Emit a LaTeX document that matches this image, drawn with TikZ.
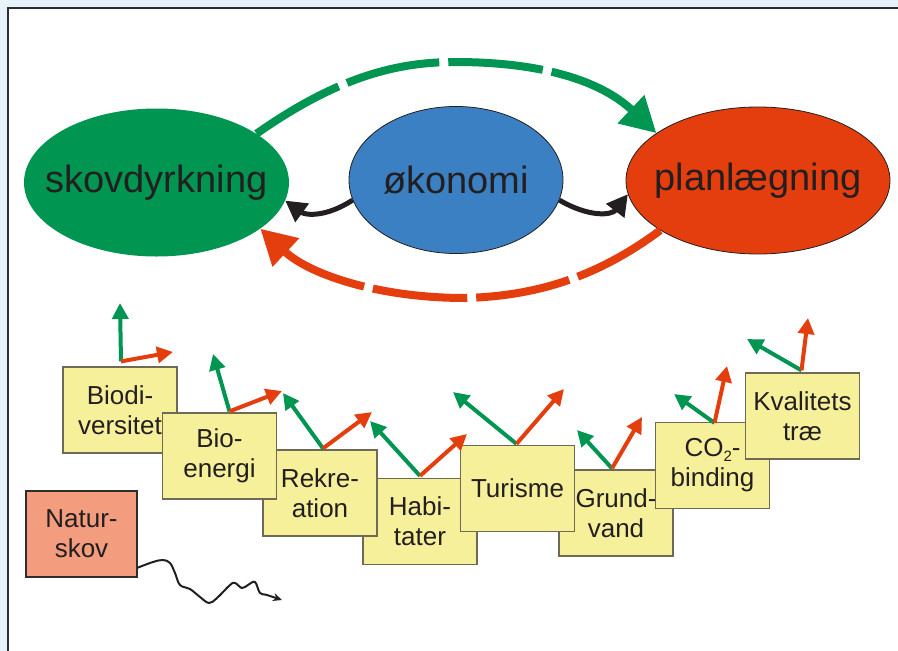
\documentclass[tikz,border=0pt]{standalone}
\usepackage{fontspec}
\setmainfont{Liberation Sans}
\usepackage{tikz}
\usetikzlibrary{calc, shapes, arrows.meta}
\usepackage{xcolor}
\definecolor{skovgreen}{RGB}{0,149,80}
\definecolor{okoblue}{RGB}{59,128,195}
\definecolor{planred}{RGB}{229,62,14}
\definecolor{boxyellow}{RGB}{247,240,155}
\definecolor{boxgray}{RGB}{110,106,85}
\definecolor{natursalmon}{RGB}{243,157,126}
\definecolor{framebg}{RGB}{232,242,251}
\definecolor{framedark}{RGB}{45,45,45}
\definecolor{textdark}{RGB}{35,31,32}

\begin{document}
\begin{tikzpicture}[x=1pt, y=-1pt,
	ovalnode/.style={ellipse, inner sep=0pt, minimum width=265pt, minimum height=148pt},
	ovaltext/.style={inner sep=0pt, text=textdark, font=\fontsize{38}{40}\selectfont},
	valuebox/.style={rectangle, draw=boxgray, line width=1.2pt, fill=boxyellow, minimum width=114pt, minimum height=86pt, inner sep=0pt, align=center, text=textdark, font=\fontsize{26}{30}\selectfont},
	greenarrow/.style={draw=skovgreen, line width=4pt, -{Triangle[length=16pt,width=16pt]}},
	redarrow/.style={draw=planred, line width=4pt, -{Triangle[length=16pt,width=16pt]}},
	bigdash/.style={line width=8pt, dash pattern=on 95pt off 9pt, -{Triangle[length=35pt,width=37pt]}},
	blackarrow/.style={draw=textdark, line width=5pt, -{Triangle[length=21pt,width=22pt]}}
	]
	\useasboundingbox (0,0) rectangle (898,651);
	%Frame of the slide
	\fill[framebg] (0,0) rectangle (898,651);
	\fill[white] (8,8) rectangle (898,651);
	\draw[framedark, line width=1.5pt] (8,651) -- (8,8) -- (898,8);
	%The three ovals
	\node[ovalnode, fill=skovgreen] (skov) at (156.5,182.5) {};
	\node[ovalnode, fill=okoblue, draw=textdark, line width=0.8pt, minimum width=214pt, minimum height=147pt] (oek) at (456,180) {};
	\node[ovalnode, fill=planred, draw=textdark, line width=0.8pt, minimum width=264pt, minimum height=147pt] (plan) at (758,180.5) {};
	\node[ovaltext] (skovtext) at (skov.center) {skovdyrkning};
	\node[ovaltext] (oektext) at (oek.center) {økonomi};
	\node[ovaltext] (plantext) at (plan.center) {planlægning};
	%Dashed loop between the outer ovals
	\draw[bigdash, draw=skovgreen] (skov.26) .. controls (340,75) and (400,62) .. (455,62) .. controls (540,62) and (600,80) .. (plan.155);
	\draw[bigdash, draw=planred] (plan.207) .. controls (600,275) and (540,296) .. (465,298) .. controls (380,298) and (310,275) .. (skov.336);
	%Small black arrows out of the middle oval
	\draw[blackarrow] (oek.191) .. controls (325,218) and (305,215) .. (skov.352);
	\draw[blackarrow] (oek.349) .. controls (590,218) and (612,215) .. (plan.186);
	%The staircase of boxes
	\node[valuebox] (habi) at (420,521.5) {Habi-\\tater};
	\node[valuebox] (rekr) at (320,493) {Rekre-\\ation};
	\node[valuebox] (bdiv) at (120,410) {Biodi-\\versitet};
	\node[valuebox] (bioe) at (219.5,456) {Bio-\\energi};
	\node[valuebox] (grun) at (616,513) {Grund-\\vand};
	\node[valuebox] (turi) at (517.5,488.5) {Turisme};
	\node[valuebox] (cobi) at (712.5,465.5) {CO{\raisebox{-5pt}{\fontsize{15}{15}\selectfont 2}}-\\binding};
	\node[valuebox] (kval) at (802.5,416) {Kvalitets\\træ};
	%Arrows on top of the boxes
	\foreach \b/\dx/\dy/\gx/\gy/\rx/\ry in {bdiv/1/-5/120/303/173/352, bioe/10/-1/213/354/282/391, rekr/3/-1/283/393/372/412, habi/0/-2/370/421/467/434, turi/-1/-1/453/392/564/389, grun/-4/-1/577/430/642/417, cobi/2/1/674/394/727/366, kval/-1/-2/747/339/808/318} {
		\coordinate (base\b) at ($(\b.north)+(\dx,\dy)$);
		\coordinate (g\b) at (\gx,\gy);
		\coordinate (r\b) at (\rx,\ry);
		\draw[greenarrow] (base\b) -- (g\b);
		\draw[redarrow] (base\b) -- (r\b);
	}
	%Natural forest box with its wavy arrow
	\node[valuebox, fill=natursalmon, draw=framedark, minimum width=111pt] (nat) at (81.5,534) {Natur-\\skov};
	\coordinate (wavyend) at (282,600);
	\draw[textdark, line width=2pt, -{Stealth[length=9pt,width=8pt]}] plot[smooth, tension=0.6] coordinates {(nat.-31) (153,562) (163,560) (170,563) (175,573) (180,585) (190,589) (200,597) (209,603) (217,598) (230,585) (235,583) (242,588) (248,585) (255,582) (260,593) (267,595) (wavyend)};
\end{tikzpicture}
\end{document}
